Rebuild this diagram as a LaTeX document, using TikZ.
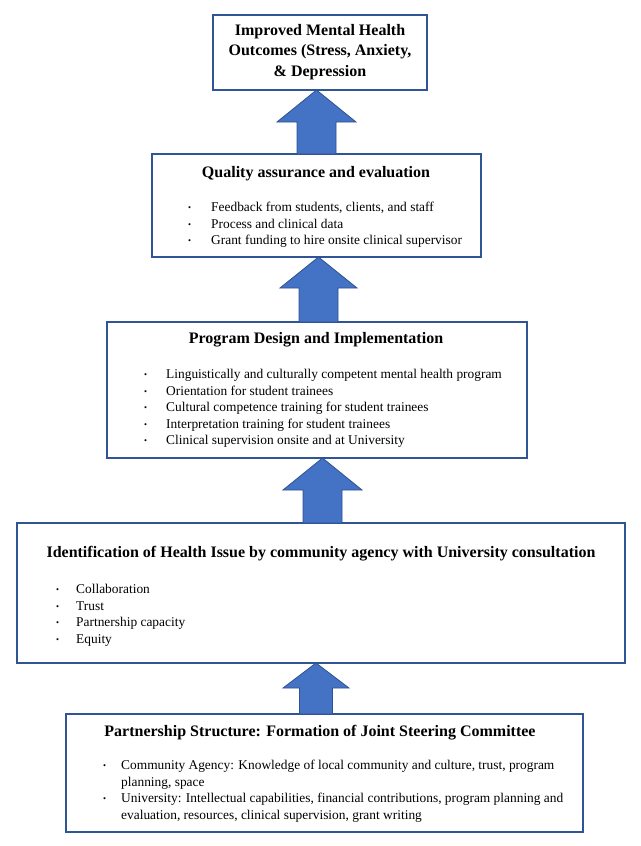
\documentclass[tikz,border=0pt]{standalone}
\usepackage{fontspec}
\setmainfont{Liberation Serif}
\usetikzlibrary{calc}
\definecolor{bdr}{HTML}{2F5597}
\definecolor{afill}{HTML}{4472C4}
\definecolor{aline}{HTML}{2F528F}
\tikzset{
 box/.style={draw=bdr, line width=1.2pt, fill=white, inner sep=0pt, outer sep=0pt, anchor=north west},
 ttl/.style={font=\fontsize{16}{20.5}\selectfont\bfseries, inner sep=0pt, anchor=base},
 itm/.style={font=\fontsize{13.4}{16.5}\selectfont, inner sep=0pt, anchor=base west},
 barrow/.style={fill=afill, draw=aline, line width=0.8pt, line join=miter},
}
\newcommand{\mybul}[1]{\makebox[#1pt][l]{\hspace{2pt}\fontsize{8.5}{8.5}\selectfont\raisebox{1pt}{•}}}
% #1 x coordinate, #2 upper box, #3 lower box, #4 head half width, #5 shaft half width, #6 head height
\newcommand{\myarrow}[6]{%
 \draw[barrow] (#2.south -| #1) -- ($(#2.south -| #1)+(#4,#6)$) -- ($(#2.south -| #1)+(#5,#6)$)
  -- ($(#3.north -| #1)+(#5,0)$) -- ($(#3.north -| #1)+(-#5,0)$)
  -- ($(#2.south -| #1)+(-#5,#6)$) -- ($(#2.south -| #1)+(-#4,#6)$) -- cycle;}
\begin{document}
\begin{tikzpicture}[x=1pt,y=-1pt]
\useasboundingbox[fill=white] (0,0) rectangle (640,846);
% boxes
\node[box, minimum width=214pt, minimum height=75pt] (b1) at (213,15) {};
\node[box, minimum width=329pt, minimum height=103pt] (b2) at (152,154) {};
\node[box, minimum width=420pt, minimum height=136pt] (b3) at (107,322) {};
\node[box, minimum width=608pt, minimum height=140pt] (b4) at (17,523) {};
\node[box, minimum width=517pt, minimum height=118pt] (b5) at (66,714) {};
% arrows
\coordinate (x1) at (316.5,0);
\coordinate (x2) at (318.5,0);
\coordinate (x3) at (322.5,0);
\coordinate (x4) at (316,0);
\myarrow{x1}{b1}{b2}{39.5}{19.5}{32}
\myarrow{x2}{b2}{b3}{38.5}{19.5}{31}
\myarrow{x3}{b3}{b4}{39.5}{19.5}{32}
\myarrow{x4}{b4}{b5}{33}{16.5}{25}
% box 1
\node[ttl, anchor=center, align=center] (t1) at (320,52) {Improved Mental Health\\Outcomes (Stress, Anxiety,\\\& Depression};
% box 2
\node[ttl] (t2) at (316,177) {Quality assurance and evaluation};
\node[itm] (i21) at (186,211.5) {\mybul{25}Feedback from students, clients, and staff};
\node[itm] (i22) at (186,228) {\mybul{25}Process and clinical data};
\node[itm] (i23) at (186,244.5) {\mybul{25}Grant funding to hire onsite clinical supervisor};
% box 3
\node[ttl] (t3) at (316,343) {Program Design and Implementation};
\node[itm] (i31) at (142,378.5) {\mybul{24}Linguistically and culturally competent mental health program};
\node[itm] (i32) at (142,395) {\mybul{24}Orientation for student trainees};
\node[itm] (i33) at (142,411.5) {\mybul{24}Cultural competence training for student trainees};
\node[itm] (i34) at (142,428) {\mybul{24}Interpretation training for student trainees};
\node[itm] (i35) at (142,444.5) {\mybul{24}Clinical supervision onsite and at University};
% box 4
\node[ttl] (t4) at (321,557) {Identification of Health Issue by community agency with University consultation};
\node[itm] (i41) at (54,593.5) {\mybul{22}Collaboration};
\node[itm] (i42) at (54,610) {\mybul{22}Trust};
\node[itm] (i43) at (54,626.5) {\mybul{22}Partnership capacity};
\node[itm] (i44) at (54,643) {\mybul{22}Equity};
% box 5
\node[ttl] (t5) at (320,736) {Partnership Structure: Formation of Joint Steering Committee};
\node[itm] (i51) at (101,769.5) {\mybul{20}Community Agency: Knowledge of local community and culture, trust, program};
\node[itm] (i51b) at (121,786) {planning, space};
\node[itm] (i52) at (101,802.5) {\mybul{20}University: Intellectual capabilities, financial contributions, program planning and};
\node[itm] (i52b) at (121,819) {evaluation, resources, clinical supervision, grant writing};
\end{tikzpicture}
\end{document}
